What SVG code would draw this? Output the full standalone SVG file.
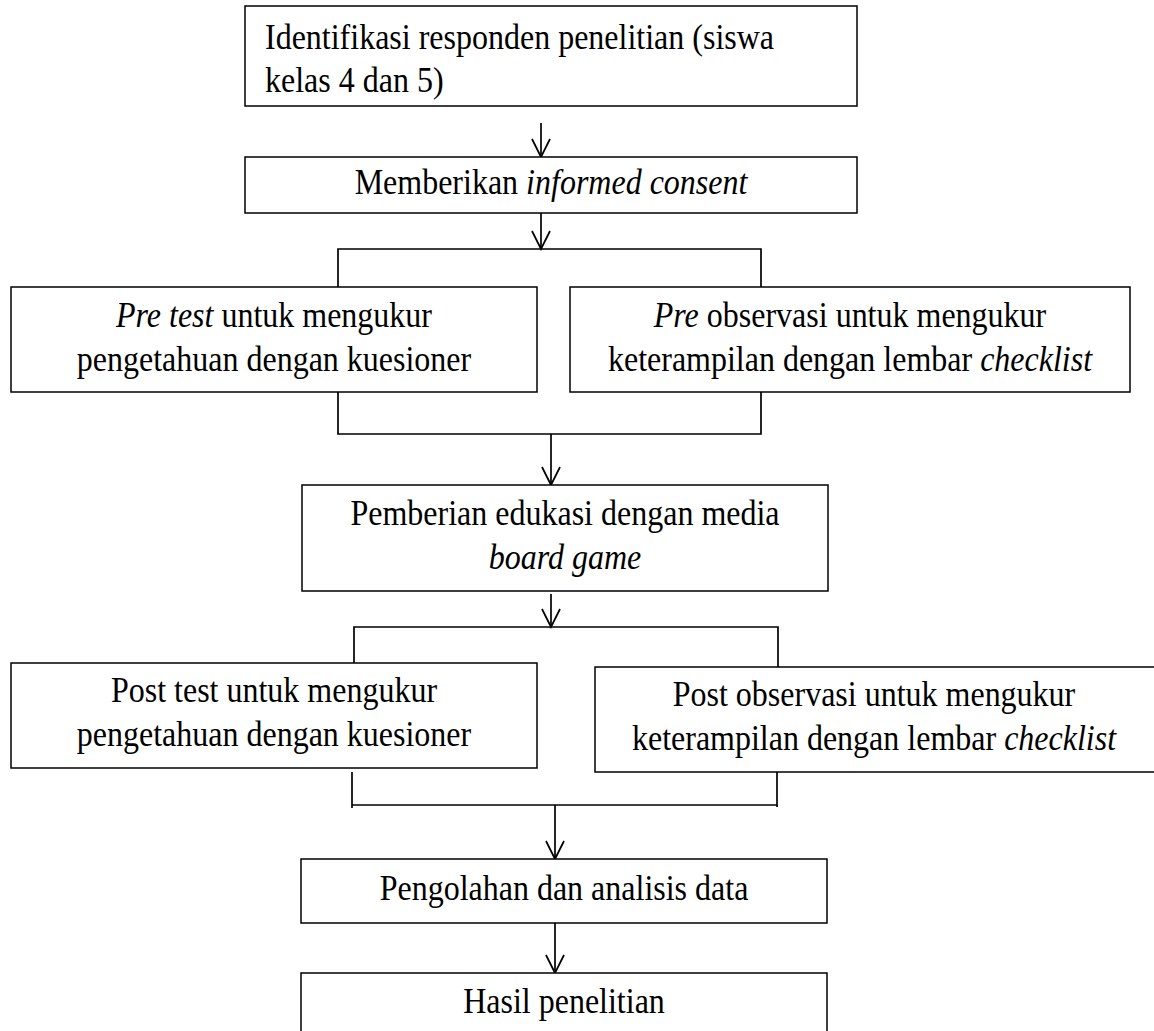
<svg xmlns="http://www.w3.org/2000/svg" width="1154" height="1031" viewBox="0 0 1154 1031">
<style>
.box{fill:#fff;stroke:#000;stroke-width:1.5}
.t{font-family:"Liberation Serif","Times New Roman",serif;font-size:36px;fill:#000}
.c{text-anchor:middle}
.i{font-style:italic}
.ln{fill:none;stroke:#000;stroke-width:1.7}
</style>
<defs>
<marker id="arr" markerUnits="userSpaceOnUse" markerWidth="24" markerHeight="24" viewBox="-20 -12 22 24" refX="0" refY="0" orient="auto">
<path d="M-18,-9 L0,0 L-18,9" fill="none" stroke="#000" stroke-width="1.7"/>
</marker>
</defs>
<rect width="1154" height="1031" fill="#fff"/>
<g id="connectors">
<line class="ln" x1="541" y1="123" x2="541" y2="157" marker-end="url(#arr)"/>
<line class="ln" x1="541" y1="213" x2="541" y2="249" marker-end="url(#arr)"/>
<polyline class="ln" points="338,287 338,249 761,249 761,287"/>
<polyline class="ln" points="338,392 338,434 761,434 761,392"/>
<line class="ln" x1="551" y1="434" x2="551" y2="485" marker-end="url(#arr)"/>
<line class="ln" x1="551" y1="594" x2="551" y2="627" marker-end="url(#arr)"/>
<polyline class="ln" points="354,663 354,627 778,627 778,667"/>
<line class="ln" x1="352" y1="772" x2="352" y2="808"/>
<line class="ln" x1="777" y1="772" x2="777" y2="807"/>
<line class="ln" x1="352" y1="805" x2="777" y2="805"/>
<line class="ln" x1="555" y1="805" x2="555" y2="859" marker-end="url(#arr)"/>
<line class="ln" x1="555" y1="923" x2="555" y2="973" marker-end="url(#arr)"/>
</g>
<g id="n1">
<rect class="box" x="245" y="6" width="612" height="100"/>
<text class="t" transform="translate(265,49) scale(0.889,1)">Identifikasi responden penelitian (siswa</text>
<text class="t" transform="translate(265,92) scale(0.889,1)">kelas 4 dan 5)</text>
</g>
<g id="n2">
<rect class="box" x="245" y="157" width="612" height="56"/>
<text class="t c" transform="translate(551,194) scale(0.889,1)">Memberikan <tspan class="i">informed consent</tspan></text>
</g>
<g id="n3">
<rect class="box" x="11" y="287" width="526" height="105"/>
<text class="t c" transform="translate(274,327) scale(0.889,1)"><tspan class="i">Pre test</tspan> untuk mengukur</text>
<text class="t c" transform="translate(274,371) scale(0.889,1)">pengetahuan dengan kuesioner</text>
</g>
<g id="n4">
<rect class="box" x="570" y="287" width="560" height="105"/>
<text class="t c" transform="translate(850,327) scale(0.889,1)"><tspan class="i">Pre</tspan> observasi untuk mengukur</text>
<text class="t c" transform="translate(850,371) scale(0.889,1)">keterampilan dengan lembar <tspan class="i">checklist</tspan></text>
</g>
<g id="n5">
<rect class="box" x="302" y="485" width="526" height="106"/>
<text class="t c" transform="translate(565,525) scale(0.889,1)">Pemberian edukasi dengan media</text>
<text class="t c" transform="translate(565,569) scale(0.889,1)"><tspan class="i">board game</tspan></text>
</g>
<g id="n6">
<rect class="box" x="11" y="663" width="526" height="105"/>
<text class="t c" transform="translate(274,702) scale(0.889,1)">Post test untuk mengukur</text>
<text class="t c" transform="translate(274,746) scale(0.889,1)">pengetahuan dengan kuesioner</text>
</g>
<g id="n7">
<rect class="box" x="595" y="667" width="570" height="105"/>
<text class="t c" transform="translate(874,706) scale(0.889,1)">Post observasi untuk mengukur</text>
<text class="t c" transform="translate(874,750) scale(0.889,1)">keterampilan dengan lembar <tspan class="i">checklist</tspan></text>
</g>
<g id="n8">
<rect class="box" x="301" y="859" width="526" height="64"/>
<text class="t c" transform="translate(564,900) scale(0.889,1)">Pengolahan dan analisis data</text>
</g>
<g id="n9">
<rect class="box" x="301" y="973" width="526" height="70"/>
<text class="t c" transform="translate(564,1013) scale(0.889,1)">Hasil penelitian</text>
</g>
</svg>
